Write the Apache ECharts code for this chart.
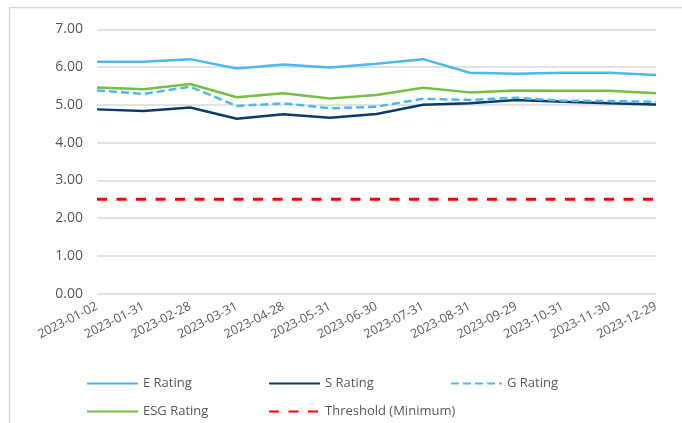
<!DOCTYPE html>
<html>
<head>
<meta charset="utf-8">
<script src="https://cdn.jsdelivr.net/npm/echarts@6/dist/echarts.min.js"></script>
<style>html,body{margin:0;padding:0;background:#fff;}#c{width:682px;height:423px;}</style>
</head>
<body>
<div id="c"></div>
<script>
var categories = ['2023-01-02','2023-01-31','2023-02-28','2023-03-31','2023-04-28','2023-05-31','2023-06-30','2023-07-31','2023-08-31','2023-09-29','2023-10-31','2023-11-30','2023-12-29'];
var eRating   = [6.14, 6.14, 6.21, 5.96, 6.07, 5.99, 6.09, 6.21, 5.85, 5.82, 5.85, 5.85, 5.79];
var sRating   = [4.88, 4.84, 4.93, 4.63, 4.75, 4.66, 4.76, 5.00, 5.04, 5.13, 5.08, 5.04, 5.01];
var gRating   = [5.38, 5.29, 5.48, 4.97, 5.04, 4.91, 4.95, 5.16, 5.13, 5.19, 5.11, 5.10, 5.08];
var esgRating = [5.46, 5.41, 5.55, 5.20, 5.31, 5.17, 5.26, 5.45, 5.33, 5.38, 5.37, 5.37, 5.31];
var threshold = [2.5, 2.5, 2.5, 2.5, 2.5, 2.5, 2.5, 2.5, 2.5, 2.5, 2.5, 2.5, 2.5];
var yTicks = {min: 0, max: 7, interval: 1};

var FONT = '"Open Sans", "Noto Sans", sans-serif';
var TXT = '#595959';
var C_E = '#4DB8EC', C_S = '#0B3B6E', C_G = '#4DB8EC', C_ESG = '#77BE45', C_T = '#FF0000';

function lg(name, left, top) {
  return {
    data: [name], left: left, top: top, orient: 'horizontal',
    itemWidth: 51, itemHeight: 14, selectedMode: false,
    itemStyle: {opacity: 0},
    textStyle: {fontFamily: FONT, fontSize: 13, color: TXT}
  };
}

var chart = echarts.init(document.getElementById('c'), null, {renderer: 'canvas'});
chart.setOption({
  animation: false,
  backgroundColor: '#fff',
  graphic: [{
    type: 'rect', silent: true,
    shape: {x: 9.5, y: 7.5, width: 720, height: 500},
    style: {fill: 'none', stroke: '#D9D9D9', lineWidth: 1.5}
  }],
  grid: {left: 97, right: 26, top: 29.3, height: 264.4, containLabel: false},
  legend: [
    lg('E Rating', 81, 372),
    lg('S Rating', 263, 372),
    lg('G Rating', 445, 372),
    lg('ESG Rating', 81, 400),
    lg('Threshold (Minimum)', 263, 400)
  ],
  xAxis: {
    type: 'category', data: categories, boundaryGap: false,
    axisLine: {show: false}, axisTick: {show: false},
    axisLabel: {rotate: 27, fontFamily: FONT, fontSize: 12.5, color: TXT, margin: 12, interval: 0}
  },
  yAxis: {
    type: 'value', min: yTicks.min, max: yTicks.max, interval: yTicks.interval,
    axisLine: {show: false}, axisTick: {show: false},
    axisLabel: {fontFamily: FONT, fontSize: 14, color: TXT, margin: 14,
      formatter: function (v) { return v.toFixed(2); }},
    splitLine: {lineStyle: {color: '#D9D9D9', width: 1.5}}
  },
  series: [
    {name: 'E Rating', type: 'line', data: eRating, symbol: 'none', color: C_E,
      lineStyle: {color: C_E, width: 2.5}},
    {name: 'S Rating', type: 'line', data: sRating, symbol: 'none', color: C_S,
      lineStyle: {color: C_S, width: 2.5}},
    {name: 'G Rating', type: 'line', data: gRating, symbol: 'none', color: C_G,
      lineStyle: {color: C_G, width: 2.5, type: [8, 4]}},
    {name: 'ESG Rating', type: 'line', data: esgRating, symbol: 'none', color: C_ESG,
      lineStyle: {color: C_ESG, width: 2.5}},
    {name: 'Threshold (Minimum)', type: 'line', data: threshold, symbol: 'none', color: C_T,
      lineStyle: {color: C_T, width: 3, type: [10, 9.5]}}
  ]
});
</script>
</body>
</html>
